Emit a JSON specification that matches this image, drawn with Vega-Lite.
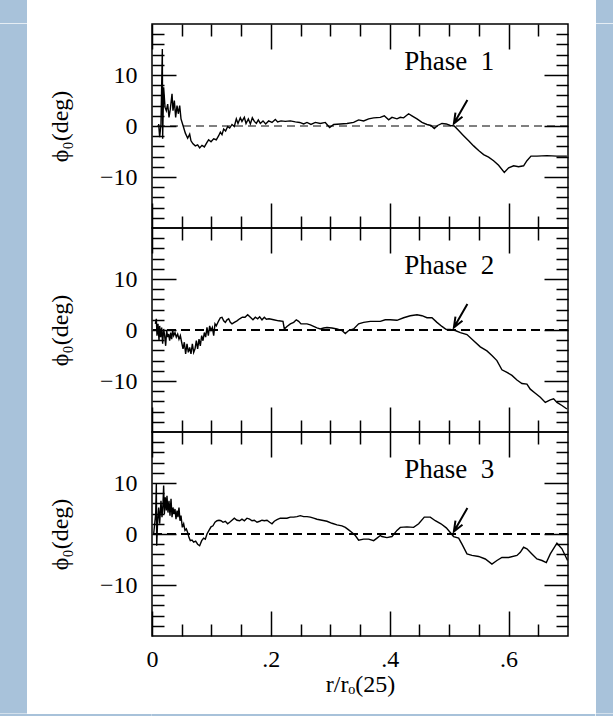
{
  "$schema": "https://vega.github.io/schema/vega-lite/v6.json",
  "background": "white",
  "padding": 0,
  "columns": 5,
  "spacing": 0,
  "bounds": "flush",
  "align": "each",
  "config": {
    "view": {"stroke": null},
    "axis": {"domain": false, "grid": false, "tickColor": "black", "tickWidth": 1.5, "labelFont": "Liberation Serif", "labelFontSize": 24, "labelColor": "black", "titleFont": "Liberation Serif", "titleFontSize": 24, "titleFontWeight": "normal", "titleColor": "black", "labelFlush": false, "labelOverlap": false}
  },
  "datasets": {
    "p1": [{"r":0.0112,"phi":0.4},{"r":0.0129,"phi":-2.2},{"r":0.0151,"phi":0.4},{"r":0.0174,"phi":15.1},{"r":0.0179,"phi":-2.5},{"r":0.0196,"phi":7.6},{"r":0.0219,"phi":3.7},{"r":0.0241,"phi":3.0},{"r":0.0264,"phi":4.3},{"r":0.0286,"phi":1.7},{"r":0.0308,"phi":3.3},{"r":0.0337,"phi":6.3},{"r":0.0353,"phi":3.0},{"r":0.0376,"phi":5.0},{"r":0.0398,"phi":1.7},{"r":0.0421,"phi":4.0},{"r":0.0443,"phi":2.4},{"r":0.0466,"phi":4.0},{"r":0.0488,"phi":1.4},{"r":0.0522,"phi":0.1},{"r":0.0561,"phi":-1.4},{"r":0.06,"phi":-2.4},{"r":0.0634,"phi":-1.6},{"r":0.0656,"phi":-2.9},{"r":0.069,"phi":-3.5},{"r":0.0729,"phi":-3.9},{"r":0.0768,"phi":-3.7},{"r":0.0802,"phi":-4.3},{"r":0.0841,"phi":-3.8},{"r":0.0881,"phi":-4.1},{"r":0.0925,"phi":-3.2},{"r":0.0953,"phi":-2.7},{"r":0.0993,"phi":-3.1},{"r":0.1038,"phi":-2.5},{"r":0.1082,"phi":-2.7},{"r":0.1122,"phi":-1.9},{"r":0.115,"phi":-1.2},{"r":0.1178,"phi":-1.7},{"r":0.1206,"phi":-0.6},{"r":0.1239,"phi":-1.0},{"r":0.1273,"phi":-0.1},{"r":0.1307,"phi":-0.4},{"r":0.1346,"phi":0.3},{"r":0.1385,"phi":-0.1},{"r":0.1419,"phi":1.4},{"r":0.1447,"phi":0.5},{"r":0.1486,"phi":1.6},{"r":0.1514,"phi":0.9},{"r":0.1554,"phi":1.7},{"r":0.1582,"phi":0.5},{"r":0.1621,"phi":1.4},{"r":0.1655,"phi":0.4},{"r":0.1688,"phi":1.6},{"r":0.1722,"phi":0.9},{"r":0.1756,"phi":0.5},{"r":0.1789,"phi":1.2},{"r":0.1823,"phi":0.5},{"r":0.1868,"phi":1.0},{"r":0.1913,"phi":0.4},{"r":0.1963,"phi":1.0},{"r":0.2019,"phi":0.7},{"r":0.2075,"phi":1.3},{"r":0.2114,"phi":0.8},{"r":0.2171,"phi":1.0},{"r":0.2243,"phi":0.9},{"r":0.2328,"phi":1.0},{"r":0.2412,"phi":0.8},{"r":0.2485,"phi":0.7},{"r":0.2552,"phi":0.4},{"r":0.2608,"phi":0.7},{"r":0.2675,"phi":0.3},{"r":0.2748,"phi":0.7},{"r":0.2832,"phi":0.5},{"r":0.2916,"phi":0.7},{"r":0.2989,"phi":-0.3},{"r":0.3057,"phi":0.3},{"r":0.3169,"phi":0.4},{"r":0.3281,"phi":0.5},{"r":0.3393,"phi":0.7},{"r":0.3477,"phi":1.2},{"r":0.3561,"phi":1.0},{"r":0.3646,"phi":1.4},{"r":0.373,"phi":1.6},{"r":0.3841,"phi":1.7},{"r":0.3909,"phi":2.0},{"r":0.3982,"phi":1.2},{"r":0.4038,"phi":1.7},{"r":0.4122,"phi":1.4},{"r":0.4178,"phi":1.7},{"r":0.4234,"phi":1.6},{"r":0.4318,"phi":2.4},{"r":0.4374,"phi":2.0},{"r":0.4459,"phi":1.4},{"r":0.4543,"phi":0.7},{"r":0.4627,"phi":0.3},{"r":0.4694,"phi":0.1},{"r":0.475,"phi":-0.5},{"r":0.4806,"phi":0.1},{"r":0.4879,"phi":0.5},{"r":0.4952,"phi":0.4},{"r":0.5019,"phi":0.1},{"r":0.5086,"phi":0.0},{"r":0.516,"phi":-0.9},{"r":0.5243,"phi":-1.9},{"r":0.5328,"phi":-2.9},{"r":0.5412,"phi":-3.9},{"r":0.5496,"phi":-4.8},{"r":0.558,"phi":-5.6},{"r":0.5664,"phi":-6.1},{"r":0.5748,"phi":-6.8},{"r":0.5832,"phi":-7.7},{"r":0.5928,"phi":-9.1},{"r":0.6001,"phi":-8.2},{"r":0.6085,"phi":-7.8},{"r":0.6169,"phi":-8.0},{"r":0.6253,"phi":-7.8},{"r":0.6309,"phi":-6.8},{"r":0.6377,"phi":-5.9},{"r":0.6477,"phi":-5.9},{"r":0.6645,"phi":-5.8},{"r":0.6814,"phi":-5.9},{"r":0.6982,"phi":-5.9}],
    "p2": [{"r":0.0056,"phi":1.2},{"r":0.0073,"phi":2.2},{"r":0.0084,"phi":-1.1},{"r":0.0101,"phi":1.2},{"r":0.0118,"phi":-2.1},{"r":0.0129,"phi":0.8},{"r":0.0146,"phi":-1.4},{"r":0.0163,"phi":0.5},{"r":0.0179,"phi":-2.7},{"r":0.0196,"phi":0.2},{"r":0.0213,"phi":-1.1},{"r":0.023,"phi":-3.1},{"r":0.0247,"phi":-0.1},{"r":0.0264,"phi":-1.4},{"r":0.028,"phi":-0.8},{"r":0.0297,"phi":-2.1},{"r":0.0314,"phi":-0.5},{"r":0.0331,"phi":-1.8},{"r":0.0348,"phi":-0.1},{"r":0.0365,"phi":-1.1},{"r":0.0387,"phi":-0.5},{"r":0.0409,"phi":-1.4},{"r":0.0432,"phi":-0.8},{"r":0.0454,"phi":-1.8},{"r":0.0477,"phi":-1.1},{"r":0.0499,"phi":-2.4},{"r":0.0522,"phi":-3.7},{"r":0.0544,"phi":-2.4},{"r":0.0566,"phi":-4.7},{"r":0.0589,"phi":-2.7},{"r":0.0611,"phi":-4.4},{"r":0.0634,"phi":-3.4},{"r":0.0656,"phi":-4.7},{"r":0.0679,"phi":-2.7},{"r":0.0701,"phi":-4.4},{"r":0.0724,"phi":-3.7},{"r":0.0746,"phi":-2.1},{"r":0.0768,"phi":-3.7},{"r":0.0791,"phi":-1.8},{"r":0.0813,"phi":-3.1},{"r":0.0836,"phi":-1.1},{"r":0.0858,"phi":-2.1},{"r":0.0881,"phi":-0.5},{"r":0.0903,"phi":-1.4},{"r":0.0925,"phi":0.5},{"r":0.0948,"phi":-1.1},{"r":0.097,"phi":0.8},{"r":0.0993,"phi":-0.1},{"r":0.1015,"phi":0.5},{"r":0.1038,"phi":-1.1},{"r":0.106,"phi":1.2},{"r":0.1082,"phi":0.8},{"r":0.1122,"phi":1.8},{"r":0.115,"phi":2.4},{"r":0.1178,"phi":2.5},{"r":0.1206,"phi":1.8},{"r":0.1234,"phi":1.5},{"r":0.1262,"phi":2.0},{"r":0.129,"phi":2.2},{"r":0.1318,"phi":1.5},{"r":0.1346,"phi":1.2},{"r":0.1385,"phi":1.5},{"r":0.143,"phi":1.8},{"r":0.1475,"phi":2.2},{"r":0.152,"phi":2.5},{"r":0.1565,"phi":2.5},{"r":0.161,"phi":3.0},{"r":0.1655,"phi":2.5},{"r":0.1699,"phi":2.0},{"r":0.1739,"phi":2.5},{"r":0.1778,"phi":2.2},{"r":0.1812,"phi":2.6},{"r":0.1851,"phi":2.0},{"r":0.189,"phi":2.5},{"r":0.1924,"phi":2.1},{"r":0.1969,"phi":2.2},{"r":0.2047,"phi":2.0},{"r":0.2131,"phi":1.8},{"r":0.2204,"phi":1.7},{"r":0.2227,"phi":0.2},{"r":0.2271,"phi":0.7},{"r":0.2328,"phi":1.2},{"r":0.2384,"phi":1.5},{"r":0.2428,"phi":2.0},{"r":0.2468,"phi":1.7},{"r":0.2507,"phi":1.2},{"r":0.2552,"phi":1.2},{"r":0.2608,"phi":1.2},{"r":0.2664,"phi":1.0},{"r":0.272,"phi":0.7},{"r":0.2776,"phi":0.4},{"r":0.2832,"phi":0.2},{"r":0.2888,"phi":0.4},{"r":0.2944,"phi":0.5},{"r":0.3029,"phi":0.4},{"r":0.3113,"phi":0.2},{"r":0.3197,"phi":-0.1},{"r":0.3253,"phi":-0.7},{"r":0.3309,"phi":-0.1},{"r":0.3393,"phi":0.2},{"r":0.3477,"phi":1.2},{"r":0.3561,"phi":1.5},{"r":0.3674,"phi":1.7},{"r":0.3842,"phi":1.7},{"r":0.3925,"phi":2.0},{"r":0.4009,"phi":2.0},{"r":0.4122,"phi":1.9},{"r":0.4234,"phi":2.4},{"r":0.4346,"phi":2.8},{"r":0.4459,"phi":3.0},{"r":0.4543,"phi":2.8},{"r":0.4627,"phi":2.4},{"r":0.4711,"phi":2.4},{"r":0.4795,"phi":1.5},{"r":0.4879,"phi":0.7},{"r":0.4952,"phi":0.1},{"r":0.5019,"phi":0.1},{"r":0.5103,"phi":-0.1},{"r":0.5188,"phi":-0.5},{"r":0.53,"phi":-0.9},{"r":0.5412,"phi":-2.1},{"r":0.5524,"phi":-3.3},{"r":0.5636,"phi":-4.1},{"r":0.572,"phi":-5.0},{"r":0.5804,"phi":-6.0},{"r":0.5888,"phi":-7.8},{"r":0.5973,"phi":-8.3},{"r":0.6057,"phi":-8.9},{"r":0.6141,"phi":-9.8},{"r":0.6225,"phi":-10.5},{"r":0.6309,"phi":-10.6},{"r":0.6365,"phi":-11.6},{"r":0.645,"phi":-12.4},{"r":0.6534,"phi":-13.2},{"r":0.6618,"phi":-14.2},{"r":0.6702,"phi":-13.7},{"r":0.6758,"phi":-13.5},{"r":0.6814,"phi":-14.2},{"r":0.6898,"phi":-14.8},{"r":0.6982,"phi":-15.5}],
    "p3": [{"r":0.0028,"phi":0.0},{"r":0.0045,"phi":2.0},{"r":0.0062,"phi":3.9},{"r":0.0073,"phi":9.8},{"r":0.0079,"phi":-2.3},{"r":0.0095,"phi":2.6},{"r":0.0112,"phi":5.2},{"r":0.0129,"phi":2.0},{"r":0.0151,"phi":6.5},{"r":0.0168,"phi":3.3},{"r":0.0185,"phi":5.9},{"r":0.0196,"phi":9.5},{"r":0.0208,"phi":3.9},{"r":0.0224,"phi":7.2},{"r":0.0241,"phi":4.6},{"r":0.0252,"phi":7.5},{"r":0.0269,"phi":4.2},{"r":0.0286,"phi":6.5},{"r":0.0303,"phi":3.6},{"r":0.032,"phi":6.9},{"r":0.0337,"phi":3.3},{"r":0.0353,"phi":5.2},{"r":0.037,"phi":3.9},{"r":0.0387,"phi":4.9},{"r":0.0404,"phi":2.9},{"r":0.0421,"phi":4.6},{"r":0.0437,"phi":3.3},{"r":0.0454,"phi":5.2},{"r":0.0471,"phi":2.6},{"r":0.0488,"phi":3.6},{"r":0.051,"phi":1.3},{"r":0.0533,"phi":2.0},{"r":0.0555,"phi":0.7},{"r":0.0578,"phi":1.0},{"r":0.06,"phi":0.3},{"r":0.0623,"phi":-0.7},{"r":0.0645,"phi":-1.3},{"r":0.0673,"phi":-1.2},{"r":0.0701,"phi":-1.6},{"r":0.0735,"phi":-1.4},{"r":0.0768,"phi":-2.0},{"r":0.0802,"phi":-2.3},{"r":0.0836,"phi":-1.3},{"r":0.0869,"phi":-0.8},{"r":0.0897,"phi":-1.0},{"r":0.0925,"phi":0.0},{"r":0.0959,"phi":0.7},{"r":0.0993,"phi":1.4},{"r":0.1026,"phi":1.6},{"r":0.106,"phi":2.3},{"r":0.1094,"phi":2.6},{"r":0.1127,"phi":2.7},{"r":0.1161,"phi":2.6},{"r":0.1195,"phi":2.3},{"r":0.1234,"phi":2.5},{"r":0.1273,"phi":2.0},{"r":0.1307,"phi":2.3},{"r":0.1346,"phi":2.7},{"r":0.1385,"phi":3.1},{"r":0.143,"phi":2.7},{"r":0.1475,"phi":2.6},{"r":0.1514,"phi":2.9},{"r":0.1554,"phi":2.6},{"r":0.1598,"phi":3.1},{"r":0.1643,"phi":2.9},{"r":0.1683,"phi":2.6},{"r":0.1722,"phi":2.7},{"r":0.1767,"phi":2.3},{"r":0.1812,"phi":2.5},{"r":0.1851,"phi":2.7},{"r":0.189,"phi":2.6},{"r":0.1935,"phi":2.7},{"r":0.198,"phi":2.3},{"r":0.2019,"phi":2.0},{"r":0.2058,"phi":2.5},{"r":0.2103,"phi":2.8},{"r":0.2159,"phi":3.1},{"r":0.2215,"phi":3.1},{"r":0.2271,"phi":3.1},{"r":0.2328,"phi":3.3},{"r":0.2384,"phi":3.3},{"r":0.244,"phi":3.4},{"r":0.2496,"phi":3.6},{"r":0.2552,"phi":3.4},{"r":0.2608,"phi":3.4},{"r":0.2664,"phi":3.3},{"r":0.272,"phi":3.1},{"r":0.2776,"phi":2.9},{"r":0.286,"phi":2.7},{"r":0.2944,"phi":2.5},{"r":0.3029,"phi":2.1},{"r":0.3113,"phi":1.8},{"r":0.3197,"phi":1.6},{"r":0.3253,"phi":1.3},{"r":0.3309,"phi":0.8},{"r":0.3365,"phi":0.3},{"r":0.3421,"phi":-0.3},{"r":0.3477,"phi":-1.2},{"r":0.3561,"phi":-1.0},{"r":0.3646,"phi":-1.0},{"r":0.373,"phi":-1.3},{"r":0.3786,"phi":-0.8},{"r":0.3842,"phi":-0.3},{"r":0.3869,"phi":-0.5},{"r":0.3953,"phi":-0.7},{"r":0.4038,"phi":-0.5},{"r":0.4122,"phi":0.7},{"r":0.4178,"phi":1.3},{"r":0.429,"phi":1.4},{"r":0.4402,"phi":1.3},{"r":0.4487,"phi":2.0},{"r":0.4582,"phi":3.3},{"r":0.4683,"phi":3.3},{"r":0.4767,"phi":2.6},{"r":0.4862,"phi":2.0},{"r":0.4952,"phi":1.2},{"r":0.5019,"phi":0.3},{"r":0.5075,"phi":-0.5},{"r":0.516,"phi":-0.8},{"r":0.5216,"phi":-2.0},{"r":0.53,"phi":-3.9},{"r":0.5384,"phi":-4.2},{"r":0.5496,"phi":-4.4},{"r":0.5608,"phi":-4.9},{"r":0.572,"phi":-5.9},{"r":0.5804,"phi":-5.2},{"r":0.5888,"phi":-4.6},{"r":0.6001,"phi":-4.6},{"r":0.6141,"phi":-4.2},{"r":0.6197,"phi":-3.6},{"r":0.6253,"phi":-2.6},{"r":0.6309,"phi":-2.9},{"r":0.6393,"phi":-3.9},{"r":0.6477,"phi":-4.9},{"r":0.6562,"phi":-5.2},{"r":0.6635,"phi":-5.6},{"r":0.6702,"phi":-3.9},{"r":0.6814,"phi":-1.8},{"r":0.6898,"phi":-2.9},{"r":0.6993,"phi":-5.2}],
    "arrow": [{"r":0.508,"phi":0.5}],
    "zero": [{"phi":0}],
    "lab1": [{"r":0.5,"phi":11,"label":"Phase \u00a01"}],
    "lab2": [{"r":0.5,"phi":11,"label":"Phase \u00a02"}],
    "lab3": [{"r":0.5,"phi":11,"label":"Phase \u00a03"}]
  },
  "concat": [
    {"width": 27, "height": 23.3, "data": {"values": []}, "mark": "rect", "view": {"fill": "#a8c2da", "stroke": null}},
    {"width": 124.7, "height": 23.3, "data": {"values": []}, "mark": "rect"},
    {"width": 416, "height": 23.3, "data": {"values": []}, "mark": "rect"},
    {"width": 27.3, "height": 23.3, "data": {"values": []}, "mark": "rect"},
    {"width": 18, "height": 23.3, "data": {"values": []}, "mark": "rect", "view": {"fill": "#a8c2da", "stroke": null}},

    {"width": 27, "height": 204, "data": {"values": []}, "mark": "rect", "view": {"fill": "#a8c2da", "stroke": null}},
    {"width": 124.7, "height": 204, "data": {"values": []}, "mark": "rect"},
    {
      "width": 416, "height": 204,
      "view": {"stroke": "black", "strokeWidth": 1.5},
      "resolve": {"axis": {"x": "independent", "y": "independent"}},
      "layer": [
        {"data": {"name": "p1"}, "mark": {"type": "line", "color": "black", "strokeWidth": 1.4, "clip": true},
         "encoding": {
           "x": {"field": "r", "type": "quantitative", "scale": {"domain": [0, 0.7], "nice": false, "zero": false},
                 "axis": {"orient": "bottom", "values": [0,0.05,0.1,0.15,0.2,0.25,0.3,0.35,0.4,0.45,0.5,0.55,0.6,0.65], "tickSize": {"condition": {"test": "round(datum.value*100) % 20 === 0", "value": -25}, "value": -12}, "labels": false, "title": null}},
           "y": {"field": "phi", "type": "quantitative", "scale": {"domain": [-20, 20], "nice": false},
                 "axis": {"orient": "left", "values": [-18,-16,-14,-12,-10,-8,-6,-4,-2,0,2,4,6,8,10,12,14,16,18], "tickSize": {"condition": {"test": "datum.value % 10 === 0", "value": -24}, "value": -12}, "labelExpr": "datum.value % 10 === 0 ? datum.label : ''", "labelPadding": 39, "title": "ϕ₀(deg)", "titlePadding": 27}}
         }},
        {"data": {"name": "zero"}, "mark": {"type": "rule", "color": "black", "strokeWidth": 1, "strokeDash": [8, 5]},
         "encoding": {"y": {"field": "phi", "type": "quantitative", "axis": null}}},
        {"data": {"name": "lab1"}, "mark": {"type": "text", "font": "Liberation Serif", "fontSize": 27, "align": "center", "baseline": "alphabetic", "color": "black"},
         "encoding": {"x": {"field": "r", "type": "quantitative", "axis": null}, "y": {"field": "phi", "type": "quantitative", "axis": null}, "text": {"field": "label"}}},
        {"data": {"name": "arrow"}, "mark": {"type": "point", "shape": "M0,0L0,-2M-0.3,-0.75L0,0L0.3,-0.75", "size": 729, "angle": 30, "filled": false, "color": "black", "strokeWidth": 2, "opacity": 1},
         "encoding": {
           "x": {"field": "r", "type": "quantitative", "axis": {"orient": "top", "values": [0,0.05,0.1,0.15,0.2,0.25,0.3,0.35,0.4,0.45,0.5,0.55,0.6,0.65], "tickSize": {"condition": {"test": "round(datum.value*100) % 20 === 0", "value": -25}, "value": -12}, "labels": false, "title": null}},
           "y": {"field": "phi", "type": "quantitative", "axis": {"orient": "right", "values": [-18,-16,-14,-12,-10,-8,-6,-4,-2,0,2,4,6,8,10,12,14,16,18], "tickSize": {"condition": {"test": "datum.value % 10 === 0", "value": -24}, "value": -12}, "labels": false, "title": null}}
         }}
      ]
    },
    {"width": 27.3, "height": 204, "data": {"values": []}, "mark": "rect"},
    {"width": 18, "height": 204, "data": {"values": []}, "mark": "rect", "view": {"fill": "#a8c2da", "stroke": null}},

    {"width": 27, "height": 204, "data": {"values": []}, "mark": "rect", "view": {"fill": "#a8c2da", "stroke": null}},
    {"width": 124.7, "height": 204, "data": {"values": []}, "mark": "rect"},
    {
      "width": 416, "height": 204,
      "view": {"stroke": "black", "strokeWidth": 1.5},
      "resolve": {"axis": {"x": "independent", "y": "independent"}},
      "layer": [
        {"data": {"name": "p2"}, "mark": {"type": "line", "color": "black", "strokeWidth": 1.4, "clip": true},
         "encoding": {
           "x": {"field": "r", "type": "quantitative", "scale": {"domain": [0, 0.7], "nice": false, "zero": false},
                 "axis": {"orient": "bottom", "values": [0,0.05,0.1,0.15,0.2,0.25,0.3,0.35,0.4,0.45,0.5,0.55,0.6,0.65], "tickSize": {"condition": {"test": "round(datum.value*100) % 20 === 0", "value": -25}, "value": -12}, "labels": false, "title": null}},
           "y": {"field": "phi", "type": "quantitative", "scale": {"domain": [-20, 20], "nice": false},
                 "axis": {"orient": "left", "values": [-18,-16,-14,-12,-10,-8,-6,-4,-2,0,2,4,6,8,10,12,14,16,18], "tickSize": {"condition": {"test": "datum.value % 10 === 0", "value": -24}, "value": -12}, "labelExpr": "datum.value % 10 === 0 ? datum.label : ''", "labelPadding": 39, "title": "ϕ₀(deg)", "titlePadding": 27}}
         }},
        {"data": {"name": "zero"}, "mark": {"type": "rule", "color": "black", "strokeWidth": 2, "strokeDash": [9, 5]},
         "encoding": {"y": {"field": "phi", "type": "quantitative", "axis": null}}},
        {"data": {"name": "lab2"}, "mark": {"type": "text", "font": "Liberation Serif", "fontSize": 27, "align": "center", "baseline": "alphabetic", "color": "black"},
         "encoding": {"x": {"field": "r", "type": "quantitative", "axis": null}, "y": {"field": "phi", "type": "quantitative", "axis": null}, "text": {"field": "label"}}},
        {"data": {"name": "arrow"}, "mark": {"type": "point", "shape": "M0,0L0,-2M-0.3,-0.75L0,0L0.3,-0.75", "size": 729, "angle": 30, "filled": false, "color": "black", "strokeWidth": 2, "opacity": 1},
         "encoding": {
           "x": {"field": "r", "type": "quantitative", "axis": {"orient": "top", "values": [0,0.05,0.1,0.15,0.2,0.25,0.3,0.35,0.4,0.45,0.5,0.55,0.6,0.65], "tickSize": {"condition": {"test": "round(datum.value*100) % 20 === 0", "value": -25}, "value": -12}, "labels": false, "title": null}},
           "y": {"field": "phi", "type": "quantitative", "axis": {"orient": "right", "values": [-18,-16,-14,-12,-10,-8,-6,-4,-2,0,2,4,6,8,10,12,14,16,18], "tickSize": {"condition": {"test": "datum.value % 10 === 0", "value": -24}, "value": -12}, "labels": false, "title": null}}
         }}
      ]
    },
    {"width": 27.3, "height": 204, "data": {"values": []}, "mark": "rect"},
    {"width": 18, "height": 204, "data": {"values": []}, "mark": "rect", "view": {"fill": "#a8c2da", "stroke": null}},

    {"width": 27, "height": 204, "data": {"values": []}, "mark": "rect", "view": {"fill": "#a8c2da", "stroke": null}},
    {"width": 124.7, "height": 204, "data": {"values": []}, "mark": "rect"},
    {
      "width": 416, "height": 204,
      "view": {"stroke": "black", "strokeWidth": 1.5},
      "resolve": {"axis": {"x": "independent", "y": "independent"}},
      "layer": [
        {"data": {"name": "p3"}, "mark": {"type": "line", "color": "black", "strokeWidth": 1.4, "clip": true},
         "encoding": {
           "x": {"field": "r", "type": "quantitative", "scale": {"domain": [0, 0.7], "nice": false, "zero": false},
                 "axis": {"orient": "bottom", "values": [0,0.05,0.1,0.15,0.2,0.25,0.3,0.35,0.4,0.45,0.5,0.55,0.6,0.65], "tickSize": {"condition": {"test": "round(datum.value*100) % 20 === 0", "value": -25}, "value": -12}, "labels": true, "labelExpr": "round(datum.value*100) % 20 === 0 ? (datum.value === 0 ? '0' : replace(format(datum.value, '.1f'), '0.', '.')) : ''", "labelPadding": 36, "title": "r/rₒ(25)", "titlePadding": -12}},
           "y": {"field": "phi", "type": "quantitative", "scale": {"domain": [-20, 20], "nice": false},
                 "axis": {"orient": "left", "values": [-18,-16,-14,-12,-10,-8,-6,-4,-2,0,2,4,6,8,10,12,14,16,18], "tickSize": {"condition": {"test": "datum.value % 10 === 0", "value": -24}, "value": -12}, "labelExpr": "datum.value % 10 === 0 ? datum.label : ''", "labelPadding": 39, "title": "ϕ₀(deg)", "titlePadding": 27}}
         }},
        {"data": {"name": "zero"}, "mark": {"type": "rule", "color": "black", "strokeWidth": 2, "strokeDash": [9, 5]},
         "encoding": {"y": {"field": "phi", "type": "quantitative", "axis": null}}},
        {"data": {"name": "lab3"}, "mark": {"type": "text", "font": "Liberation Serif", "fontSize": 27, "align": "center", "baseline": "alphabetic", "color": "black"},
         "encoding": {"x": {"field": "r", "type": "quantitative", "axis": null}, "y": {"field": "phi", "type": "quantitative", "axis": null}, "text": {"field": "label"}}},
        {"data": {"name": "arrow"}, "mark": {"type": "point", "shape": "M0,0L0,-2M-0.3,-0.75L0,0L0.3,-0.75", "size": 729, "angle": 30, "filled": false, "color": "black", "strokeWidth": 2, "opacity": 1},
         "encoding": {
           "x": {"field": "r", "type": "quantitative", "axis": {"orient": "top", "values": [0,0.05,0.1,0.15,0.2,0.25,0.3,0.35,0.4,0.45,0.5,0.55,0.6,0.65], "tickSize": {"condition": {"test": "round(datum.value*100) % 20 === 0", "value": -25}, "value": -12}, "labels": false, "title": null}},
           "y": {"field": "phi", "type": "quantitative", "axis": {"orient": "right", "values": [-18,-16,-14,-12,-10,-8,-6,-4,-2,0,2,4,6,8,10,12,14,16,18], "tickSize": {"condition": {"test": "datum.value % 10 === 0", "value": -24}, "value": -12}, "labels": false, "title": null}}
         }}
      ]
    },
    {"width": 27.3, "height": 204, "data": {"values": []}, "mark": "rect"},
    {"width": 18, "height": 204, "data": {"values": []}, "mark": "rect", "view": {"fill": "#a8c2da", "stroke": null}},

    {"width": 27, "height": 77.4, "data": {"values": []}, "mark": "rect", "view": {"fill": "#a8c2da", "stroke": null}},
    {"width": 124.7, "height": 77.4, "data": {"values": []}, "mark": "rect"},
    {"width": 416, "height": 77.4, "data": {"values": []}, "mark": "rect"},
    {"width": 27.3, "height": 77.4, "data": {"values": []}, "mark": "rect"},
    {"width": 18, "height": 77.4, "data": {"values": []}, "mark": "rect", "view": {"fill": "#a8c2da", "stroke": null}},

    {"width": 27, "height": 3.3, "data": {"values": []}, "mark": "rect", "view": {"fill": "#a8c2da", "stroke": null}},
    {"width": 124.7, "height": 3.3, "data": {"values": []}, "mark": "rect", "view": {"fill": "#a8c2da", "stroke": null}},
    {"width": 416, "height": 3.3, "data": {"values": []}, "mark": "rect", "view": {"fill": "#a8c2da", "stroke": null}},
    {"width": 27.3, "height": 3.3, "data": {"values": []}, "mark": "rect", "view": {"fill": "#a8c2da", "stroke": null}},
    {"width": 18, "height": 3.3, "data": {"values": []}, "mark": "rect", "view": {"fill": "#a8c2da", "stroke": null}}
  ]
}
